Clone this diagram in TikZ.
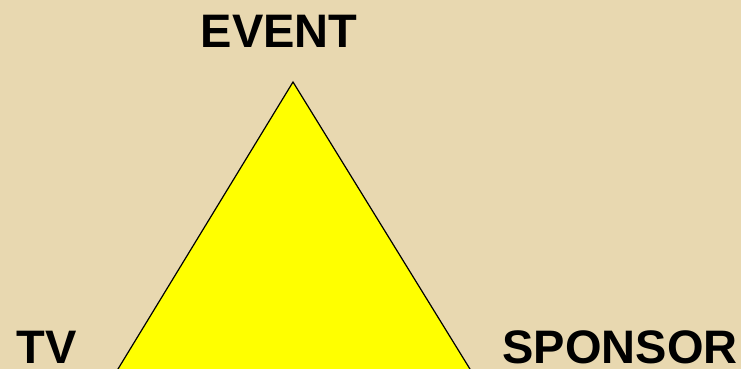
\documentclass[tikz,border=0pt]{standalone}
\usepackage{fontspec}
\setmainfont{Liberation Sans}
\definecolor{tanbg}{RGB}{232,216,176}
\definecolor{triyellow}{RGB}{255,255,0}
\tikzset{
  cornerlabel/.style={anchor=base,font=\fontsize{47}{47}\selectfont\bfseries,inner sep=0pt,text depth=0pt}
}

\begin{document}
\begin{tikzpicture}[x=1pt,y=-1pt,line join=miter]
  % background and frame
  \fill[tanbg] (0,0) rectangle (741,369);
  \useasboundingbox (0,0) rectangle (741,369);
  % triangle, base runs past the lower edge
  \begin{scope}
    \clip (0,0) rectangle (741,369);
    \coordinate (apex) at (293,82);
    \draw[line width=1.2pt,fill=triyellow] (apex) -- (112.5,378) -- (475.5,378) -- cycle;
  \end{scope}
  % corner labels
  \node[cornerlabel] (event) at (279,48) {EVENT};
  \node[cornerlabel] (tv) at (47,363) {TV};
  \node[cornerlabel] (sponsor) at (620,363) {SPONSOR};
\end{tikzpicture}
\end{document}
